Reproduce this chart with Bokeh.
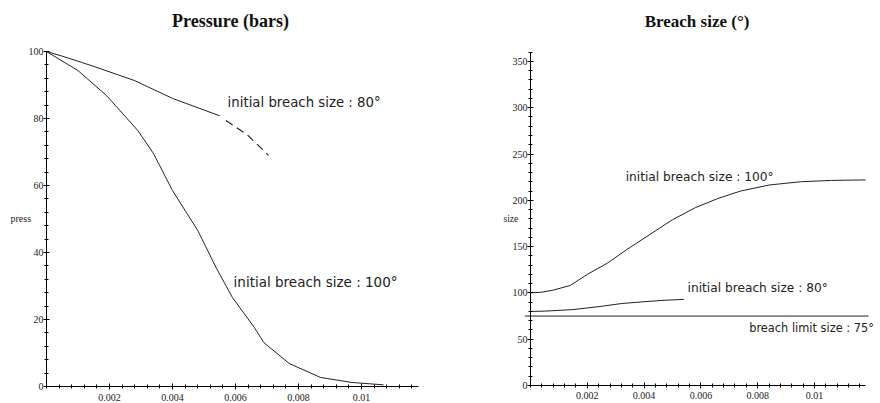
from bokeh.plotting import figure
from bokeh.layouts import row
from bokeh.models import FixedTicker, Label, Range1d
from bokeh.embed import file_html
from bokeh.resources import INLINE

# ---- data: pressure (bars) ----
t_p80 = [0, 0.0005, 0.0011, 0.0017, 0.0028, 0.0040, 0.0055]
p_80 = [100, 98.6, 96.8, 94.9, 91.3, 86.0, 80.8]
t_p80_dash = [0.0057, 0.0064, 0.00705]
p_80_dash = [79.4, 74.9, 69.0]
t_p100 = [0, 0.0010, 0.0019, 0.0029, 0.0034, 0.0040, 0.0048, 0.0054, 0.0059,
          0.0066, 0.0069, 0.0077, 0.0087, 0.0097, 0.0107]
p_100 = [100, 94.3, 86.9, 76.4, 69.5, 58.5, 46.6, 35.2, 26.6,
         17.6, 13.1, 6.9, 2.7, 1.2, 0.5]

# ---- data: breach size (deg) ----
t_s100 = [0, 0.0004, 0.0008, 0.0014, 0.0020, 0.0027, 0.0034, 0.0042, 0.0050,
          0.0058, 0.0066, 0.0074, 0.0084, 0.0095, 0.0106, 0.0118]
s_100 = [100, 100.8, 103, 108, 120, 132, 147, 163, 179,
         192, 202, 210, 216.5, 220, 221.5, 222]
t_s80 = [0, 0.0005, 0.0015, 0.0025, 0.0032, 0.0040, 0.0047, 0.0054]
s_80 = [80, 80.3, 82, 85.5, 88.5, 90.5, 92, 93]
t_limit = [-0.0002, 0.0119]
s_limit = [75, 75]

x_major = [0.002, 0.004, 0.006, 0.008, 0.01]
x_labels = {0.002: "0.002", 0.004: "0.004", 0.006: "0.006", 0.008: "0.008", 0.01: "0.01"}
x_minor = [i * 0.0004 for i in range(0, 30)]

p_major = [0, 20, 40, 60, 80, 100]
p_minor = [i * 4 for i in range(0, 26)]
s_major = [0, 50, 100, 150, 200, 250, 300, 350]
s_minor = [i * 10 for i in range(0, 37)]

LINE = "#222222"
TXT = "#222222"


def make_fig(width, height, xr, yr, x_end, y_end, ymaj, ymin):
    p = figure(width=width, height=height, output_backend="svg", toolbar_location=None,
               x_range=Range1d(*xr), y_range=Range1d(*yr),
               min_border_left=0, min_border_right=0, min_border_top=0, min_border_bottom=0)
    p.outline_line_color = None
    p.grid.visible = False
    p.background_fill_color = "white"
    p.border_fill_color = "white"
    p.xaxis.ticker = FixedTicker(ticks=x_major, minor_ticks=x_minor)
    p.xaxis.major_label_overrides = x_labels
    p.yaxis.ticker = FixedTicker(ticks=ymaj, minor_ticks=ymin)
    p.xaxis.fixed_location = 0
    p.yaxis.fixed_location = 0
    p.xaxis.bounds = (0, x_end)
    p.yaxis.bounds = (0, y_end)
    for ax in (p.xaxis, p.yaxis):
        ax.axis_line_color = "black"
        ax.major_tick_line_color = "black"
        ax.minor_tick_line_color = "black"
        ax.major_tick_in = 3
        ax.major_tick_out = 3
        ax.minor_tick_in = 2
        ax.minor_tick_out = 2
        ax.major_label_text_font = "Liberation Serif"
        ax.major_label_text_font_size = "10px"
        ax.major_label_text_color = "#222222"
    p.yaxis.major_label_standoff = 0
    p.xaxis.major_label_standoff = 4
    return p


def add_label(p, x, y, text, size, font="DejaVu Sans", align="left",
              baseline="middle", style="normal", color=TXT):
    p.add_layout(Label(x=x, y=y, text=text, text_font=font, text_font_size=size,
                       text_color=color, text_baseline=baseline, text_align=align,
                       text_font_style=style))


# left: pressure
p1 = make_fig(440, 403, (-0.00146, 0.012508), (-5.07, 115.22), 0.0118, 100,
              p_major, p_minor)
p1.line(t_p80, p_80, line_color=LINE, line_width=1)
p1.line(t_p80_dash, p_80_dash, line_color=LINE, line_width=1.2, line_dash="8 5")
p1.line(t_p100, p_100, line_color=LINE, line_width=1)
add_label(p1, 0.00575, 84.8, "initial breach size : 80°", "13.3px")
add_label(p1, 0.00594, 31.3, "initial breach size : 100°", "13.5px")
add_label(p1, -0.001143, 50.1, "press", "10px", font="Liberation Serif")
add_label(p1, 0.005841, 109.0, "Pressure (bars)", "18px", font="Liberation Serif",
          align="center", baseline="alphabetic", style="bold", color="#111111")
add_label(p1, 0.0059, -6.27, "t", "10px", font="Liberation Serif",
          align="center", baseline="alphabetic")

# right: breach size
p2 = make_fig(440, 403, (-0.003169, 0.012324), (-19.44, 415.77), 0.0118, 360,
              s_major, s_minor)
p2.line(t_s100, s_100, line_color=LINE, line_width=1)
p2.line(t_s80, s_80, line_color=LINE, line_width=1)
p2.line(t_limit, s_limit, line_color=LINE, line_width=1)
add_label(p2, 0.00335, 225.7, "initial breach size : 100°", "12.2px")
add_label(p2, 0.00553, 105.8, "initial breach size : 80°", "12.2px")
add_label(p2, 0.00770, 61.6, "breach limit size : 75°", "11.4px")
add_label(p2, -0.00095, 180.3, "size", "9.5px", font="Liberation Serif")
add_label(p2, 0.005863, 393.1, "Breach size (°)", "17px", font="Liberation Serif",
          align="center", baseline="alphabetic", style="bold", color="#111111")
add_label(p2, 0.00588, -23.8, "t", "10px", font="Liberation Serif",
          align="center", baseline="alphabetic")

layout = row(p1, p2)
open("out.html", "w").write(file_html(layout, INLINE))
